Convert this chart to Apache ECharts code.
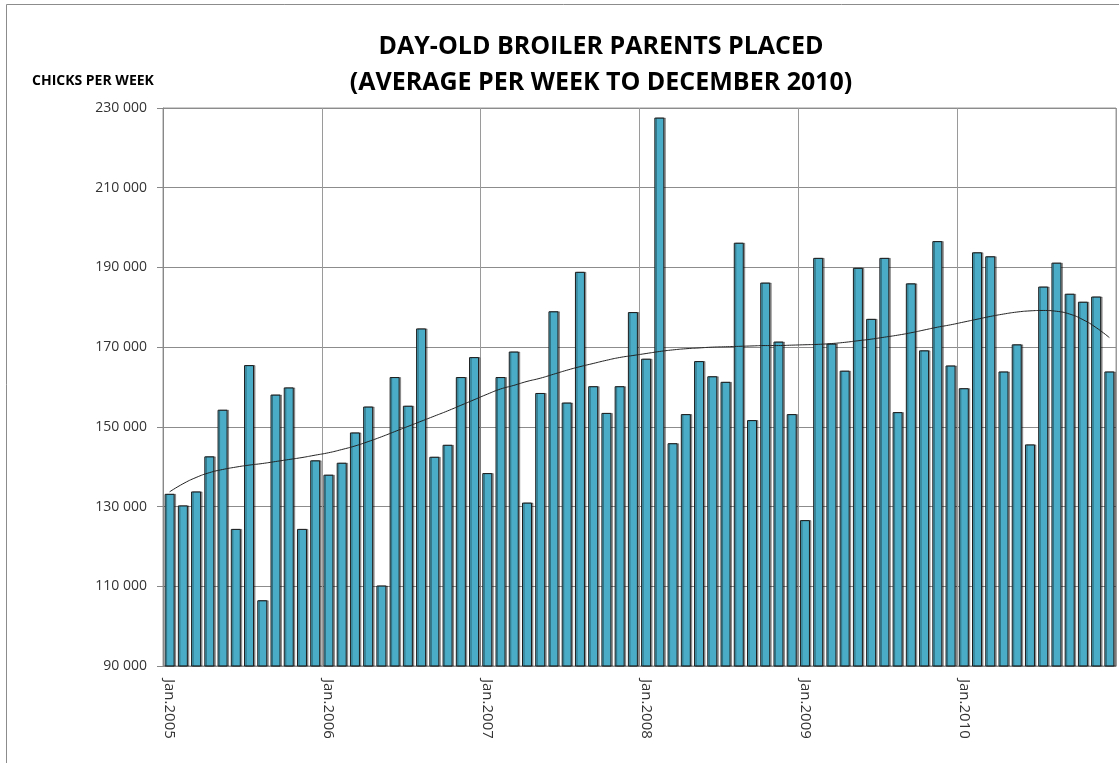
<!DOCTYPE html>
<html>
	<head>
		<meta charset="UTF-8">
		<title></title>
		<script type="text/javascript" src="https://cdn.jsdelivr.net/npm/echarts@6/dist/echarts.min.js"></script>
	</head>
	<body style="margin:0">
		<div id="main" style="height:763px;width:1119px"></div>
	</body>
</html>
<script>
    // months Jan.2005 - Dec.2010
    var years = ['2005', '2006', '2007', '2008', '2009', '2010'];
    var monthNames = ['Jan', 'Feb', 'Mar', 'Apr', 'May', 'Jun', 'Jul', 'Aug', 'Sep', 'Oct', 'Nov', 'Dec'];
    var categories = [];
    years.forEach(function (y) {
        monthNames.forEach(function (m) { categories.push(m + '.' + y); });
    });

    // chicks per week, monthly average
    var placed = [
        133200, 130300, 133800, 142600, 154300, 124400, 165500, 106500, 158100, 159900, 124400, 141600,
        138000, 141000, 148600, 155100, 110200, 162500, 155300, 174700, 142500, 145500, 162500, 167500,
        138400, 162500, 168900, 131000, 158500, 179000, 156100, 188900, 160200, 153500, 160200, 178800,
        167100, 227600, 145900, 153200, 166500, 162700, 161300, 196200, 151700, 186200, 171400, 153200,
        126600, 192400, 170900, 164100, 189900, 177100, 192400, 153700, 186000, 169200, 196600, 165400,
        159700, 193800, 192800, 163900, 170700, 145600, 185200, 191200, 183400, 181400, 182700, 163900
    ];

    // trend line
    var trend = [
        133700, 135700, 137300, 138500, 139300, 139900, 140400, 140800, 141300, 141800, 142300, 142900,
        143500, 144300, 145200, 146300, 147500, 148800, 150100, 151400, 152700, 154000, 155400, 156800,
        158200, 159500, 160400, 161400, 162200, 163200, 164200, 165100, 165900, 166700, 167400, 167900,
        168400, 168900, 169300, 169600, 169800, 170000, 170100, 170200, 170300, 170400, 170400, 170500,
        170600, 170700, 170900, 171200, 171600, 172000, 172500, 173000, 173600, 174300, 175000, 175600,
        176300, 177000, 177700, 178300, 178800, 179100, 179200, 179000, 178300, 176900, 174900, 172400
    ];

    var yTicks = { min: 90000, max: 230000, interval: 20000 };

    var myChart = echarts.init(document.getElementById('main'));
    var option = {
        animation: false,
        backgroundColor: '#fff',
        title: [{
            text: 'DAY-OLD BROILER PARENTS PLACED\n(AVERAGE PER WEEK TO DECEMBER 2010)',
            left: 596,
            top: 24,
            textAlign: 'center',
            textStyle: {
                fontFamily: 'Open Sans',
                fontWeight: 'bold',
                fontSize: 25,
                lineHeight: 36,
                color: '#000'
            }
        }, {
            text: 'CHICKS PER WEEK',
            left: 27,
            top: 69,
            textStyle: {
                fontFamily: 'Open Sans',
                fontWeight: 'bold',
                fontSize: 14,
                color: '#000'
            }
        }],
        graphic: [{
            type: 'rect',
            shape: { x: 6.5, y: 4.5, width: 1200, height: 900 },
            style: { fill: 'none', stroke: '#8c8c8c', lineWidth: 1 }
        }],
        grid: {
            left: 163, right: 3, top: 108, bottom: 97,
            show: true, borderColor: '#9a9a9a', borderWidth: 1, backgroundColor: 'transparent'
        },
        xAxis: {
            type: 'category',
            data: categories,
            boundaryGap: true,
            axisLine: { lineStyle: { color: '#888' } },
            axisTick: { interval: 11, length: 7, lineStyle: { color: '#888' } },
            axisLabel: {
                interval: 11,
                rotate: -90,
                margin: 13,
                fontFamily: 'Open Sans',
                fontSize: 15,
                color: '#333'
            },
            splitLine: { show: true, interval: 11, lineStyle: { color: '#9a9a9a' } }
        },
        yAxis: {
            type: 'value',
            min: yTicks.min,
            max: yTicks.max,
            interval: yTicks.interval,
            axisLine: { show: true, lineStyle: { color: '#888' } },
            axisTick: { show: true, length: 6, lineStyle: { color: '#888' } },
            axisLabel: {
                margin: 16,
                fontFamily: 'Open Sans',
                fontSize: 14,
                color: '#333',
                formatter: function (v) {
                    return String(v).replace(/\B(?=(\d{3})+(?!\d))/g, ' ');
                }
            },
            splitLine: { lineStyle: { color: '#8c8c8c' } }
        },
        series: [{
            name: 'placed',
            type: 'bar',
            data: placed,
            barWidth: 10,
            itemStyle: {
                color: '#4aacc6',
                borderColor: '#1c1c1c',
                borderWidth: 1,
                shadowColor: 'rgba(0,0,0,0.35)',
                shadowOffsetX: 1.5,
                shadowOffsetY: 0
            }
        }, {
            name: 'trend',
            type: 'line',
            data: trend,
            smooth: true,
            symbol: 'none',
            z: 5,
            lineStyle: { color: '#222', width: 1 }
        }]
    };

    myChart.setOption(option);
</script>
